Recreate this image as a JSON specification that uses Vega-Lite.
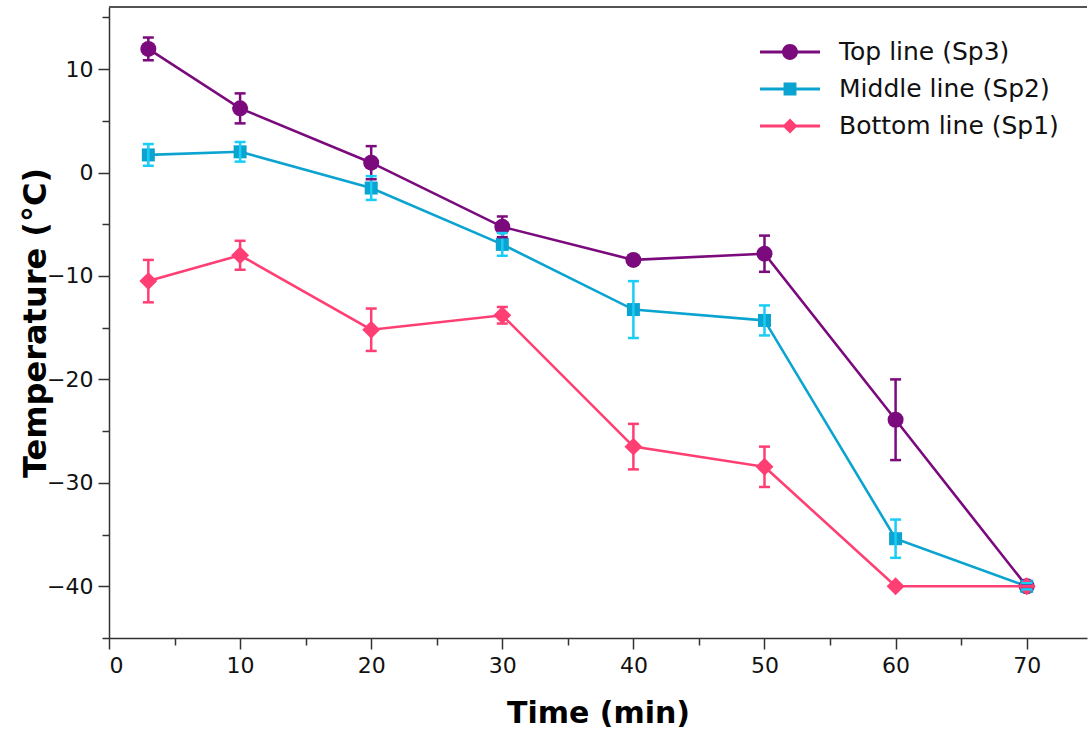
{
  "$schema": "https://vega.github.io/schema/vega-lite/v6.json",
  "autosize": {"type": "none"},
  "width": 978,
  "height": 631,
  "padding": {"left": 109, "top": 7, "right": 1, "bottom": 93},
  "background": "white",
  "config": {
    "view": {"stroke": null},
    "font": "DejaVu Sans",
    "axis": {"labelFont": "DejaVu Sans", "titleFont": "DejaVu Sans", "grid": false, "domainColor": "#333333", "tickColor": "#333333", "domainWidth": 1.5, "tickWidth": 1.5, "labelColor": "#111111", "titleColor": "#000000"}
  },
  "data": {"values": [
    {"series": "Top line (Sp3)", "time": 3, "temp": 11.95, "lo": 10.85, "hi": 13.05},
    {"series": "Top line (Sp3)", "time": 10, "temp": 6.2, "lo": 4.75, "hi": 7.65},
    {"series": "Top line (Sp3)", "time": 20, "temp": 0.95, "lo": -0.65, "hi": 2.55},
    {"series": "Top line (Sp3)", "time": 30, "temp": -5.25, "lo": -6.25, "hi": -4.25},
    {"series": "Top line (Sp3)", "time": 40, "temp": -8.45, "lo": -8.85, "hi": -8.05},
    {"series": "Top line (Sp3)", "time": 50, "temp": -7.85, "lo": -9.6, "hi": -6.1},
    {"series": "Top line (Sp3)", "time": 60, "temp": -23.9, "lo": -27.8, "hi": -20.0},
    {"series": "Top line (Sp3)", "time": 70, "temp": -40, "lo": -40.2, "hi": -39.8},
    {"series": "Middle line (Sp2)", "time": 3, "temp": 1.7, "lo": 0.65, "hi": 2.75},
    {"series": "Middle line (Sp2)", "time": 10, "temp": 2.0, "lo": 1.05, "hi": 2.95},
    {"series": "Middle line (Sp2)", "time": 20, "temp": -1.5, "lo": -2.65, "hi": -0.35},
    {"series": "Middle line (Sp2)", "time": 30, "temp": -6.95, "lo": -8.05, "hi": -5.85},
    {"series": "Middle line (Sp2)", "time": 40, "temp": -13.25, "lo": -16.0, "hi": -10.5},
    {"series": "Middle line (Sp2)", "time": 50, "temp": -14.3, "lo": -15.75, "hi": -12.85},
    {"series": "Middle line (Sp2)", "time": 60, "temp": -35.4, "lo": -37.25, "hi": -33.55},
    {"series": "Middle line (Sp2)", "time": 70, "temp": -40, "lo": -40.3, "hi": -39.7},
    {"series": "Bottom line (Sp1)", "time": 3, "temp": -10.5, "lo": -12.55, "hi": -8.45},
    {"series": "Bottom line (Sp1)", "time": 10, "temp": -8.0, "lo": -9.4, "hi": -6.6},
    {"series": "Bottom line (Sp1)", "time": 20, "temp": -15.2, "lo": -17.25, "hi": -13.15},
    {"series": "Bottom line (Sp1)", "time": 30, "temp": -13.8, "lo": -14.6, "hi": -13.0},
    {"series": "Bottom line (Sp1)", "time": 40, "temp": -26.5, "lo": -28.7, "hi": -24.3},
    {"series": "Bottom line (Sp1)", "time": 50, "temp": -28.45, "lo": -30.4, "hi": -26.5},
    {"series": "Bottom line (Sp1)", "time": 60, "temp": -40, "lo": -40, "hi": -40},
    {"series": "Bottom line (Sp1)", "time": 70, "temp": -40, "lo": -40, "hi": -40}
  ]},
  "encoding": {
    "x": {"field": "time", "type": "quantitative", "scale": {"domain": [0, 74.6], "nice": false, "zero": false},
      "axis": {"title": "Time (min)", "titleFontSize": 30, "titleFontWeight": "bold", "titlePadding": 22,
        "values": [0, 5, 10, 15, 20, 25, 30, 35, 40, 45, 50, 55, 60, 65, 70],
        "labelExpr": "datum.value % 10 === 0 ? datum.label : ''",
        "tickSize": {"condition": {"test": "datum.value % 10 === 0", "value": 11}, "value": 7},
        "labelFontSize": 22, "labelPadding": 6}}
  },
  "layer": [
    {
      "mark": {"type": "rule", "color": "#555555", "strokeWidth": 1.5},
      "encoding": {"y": {"datum": 16, "type": "quantitative", "title": "Temperature (°C)", "scale": {"domain": [-45, 16], "nice": false, "zero": false}}, "x": null}
    },
    {
      "mark": {"type": "line", "strokeWidth": 2.6},
      "encoding": {
        "y": {"field": "temp", "type": "quantitative", "title": "Temperature (°C)", "scale": {"domain": [-45, 16], "nice": false, "zero": false},
          "axis": {"titleFontSize": 32, "titleFontWeight": "bold", "titlePadding": -6,
            "values": [-45, -40, -35, -30, -25, -20, -15, -10, -5, 0, 5, 10, 15],
            "labelExpr": "datum.value % 10 === 0 ? datum.label : ''",
            "tickSize": {"condition": {"test": "datum.value % 10 === 0", "value": 11}, "value": 7},
            "labelFontSize": 22, "labelPadding": 5}},
        "color": {"field": "series", "type": "nominal",
          "scale": {"domain": ["Top line (Sp3)", "Middle line (Sp2)", "Bottom line (Sp1)"], "range": ["#7b0a7d", "#0ba3cf", "#ff3f73"]},
          "legend": {"title": null, "orient": "none", "legendX": 651, "legendY": 30, "padding": 0,
            "labelFontSize": 25, "labelColor": "#111111", "labelFont": "DejaVu Sans", "labelLimit": 400, "symbolSize": 900, "labelOffset": 49, "rowPadding": 9,
            "encode": {"symbols": {"update": {
              "shape": {"signal": "datum.value === 'Top line (Sp3)' ? 'M-1,-0.1L3,-0.1L3,0.1L-1,0.1ZM0.47,0A0.53,0.53,0,0,1,1,-0.53A0.53,0.53,0,0,1,1.53,0A0.53,0.53,0,0,1,1,0.53A0.53,0.53,0,0,1,0.47,0Z' : datum.value === 'Middle line (Sp2)' ? 'M-1,-0.1L3,-0.1L3,0.1L-1,0.1ZM0.57,-0.43L1.43,-0.43L1.43,0.43L0.57,0.43Z' : 'M-1,-0.1L3,-0.1L3,0.1L-1,0.1ZM1,-0.5L1.5,0L1,0.5L0.5,0Z'"},
              "fill": {"signal": "scale('color', datum.value)"},
              "fillOpacity": {"value": 1},
              "stroke": {"value": null},
              "strokeWidth": {"value": 0},
              "size": {"value": 900}
            }}}}
        }
      }
    },
    {
      "transform": [{"filter": "datum.series === 'Top line (Sp3)'"}],
      "mark": {"type": "point", "filled": true, "opacity": 1, "shape": "circle", "size": 256},
      "encoding": {
        "y": {"field": "temp", "type": "quantitative", "title": "Temperature (°C)"},
        "color": {"field": "series", "type": "nominal"}
      }
    },
    {
      "transform": [{"filter": "datum.series === 'Middle line (Sp2)'"}],
      "mark": {"type": "point", "filled": true, "opacity": 1, "shape": "square", "size": 169},
      "encoding": {
        "y": {"field": "temp", "type": "quantitative", "title": "Temperature (°C)"},
        "color": {"field": "series", "type": "nominal"}
      }
    },
    {
      "transform": [{"filter": "datum.series === 'Bottom line (Sp1)'"}],
      "mark": {"type": "point", "filled": true, "opacity": 1, "shape": "diamond", "size": 320},
      "encoding": {
        "y": {"field": "temp", "type": "quantitative", "title": "Temperature (°C)"},
        "color": {"field": "series", "type": "nominal"}
      }
    },
    {
      "mark": {"type": "rule", "strokeWidth": 2.5, "opacity": 1},
      "encoding": {
        "y": {"field": "lo", "type": "quantitative", "title": "Temperature (°C)"},
        "y2": {"field": "hi"},
        "stroke": {"field": "series", "type": "nominal", "scale": {"domain": ["Top line (Sp3)", "Middle line (Sp2)", "Bottom line (Sp1)"], "range": ["#7b0a7d", "#19cdf7", "#ff3f73"]}, "legend": null}
      }
    },
    {
      "mark": {"type": "tick", "orient": "horizontal", "size": 11, "thickness": 2.5, "opacity": 1, "strokeWidth": 0},
      "encoding": {
        "y": {"field": "lo", "type": "quantitative", "title": "Temperature (°C)"},
        "fill": {"field": "series", "type": "nominal", "scale": {"domain": ["Top line (Sp3)", "Middle line (Sp2)", "Bottom line (Sp1)"], "range": ["#7b0a7d", "#19cdf7", "#ff3f73"]}, "legend": null}
      }
    },
    {
      "mark": {"type": "tick", "orient": "horizontal", "size": 11, "thickness": 2.5, "opacity": 1, "strokeWidth": 0},
      "encoding": {
        "y": {"field": "hi", "type": "quantitative", "title": "Temperature (°C)"},
        "fill": {"field": "series", "type": "nominal", "legend": null}
      }
    }
  ]
}
